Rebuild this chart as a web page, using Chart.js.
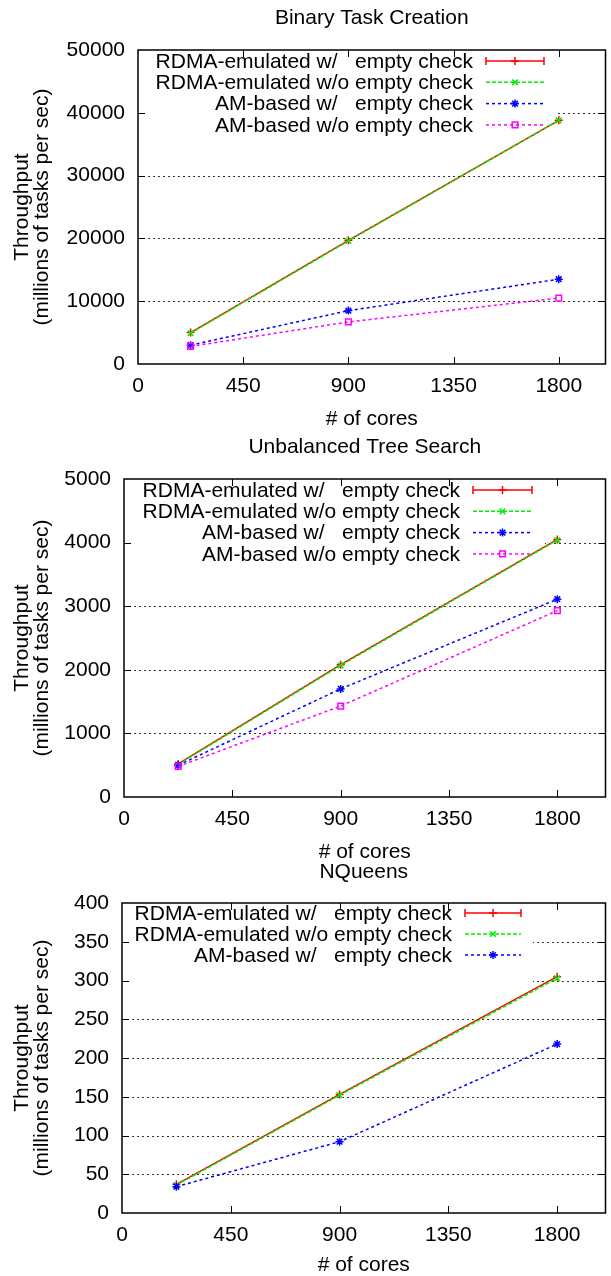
<!DOCTYPE html>
<html>
<head>
<meta charset="utf-8">
<script src="https://cdn.jsdelivr.net/npm/chart.js@4.4.0/dist/chart.umd.min.js"></script>
<style>
  html, body { margin: 0; padding: 0; background: #fff; }
  #wrap { position: relative; width: 611px; height: 1276px; overflow: hidden; }
  canvas { position: absolute; left: 0; }
</style>
</head>
<body>
<div id="wrap">
  <canvas id="btc" width="611" height="430" style="top:0px"></canvas>
  <canvas id="uts" width="611" height="430" style="top:430px"></canvas>
  <canvas id="nq" width="611" height="416" style="top:860px"></canvas>
</div>
<script>
// shared x data
const cores = [225, 900, 1800];
const xTicks = [0, 450, 900, 1350, 1800];
const seriesNames = [
    'RDMA-emulated w/   empty check',
    'RDMA-emulated w/o empty check',
    'AM-based w/   empty check',
    'AM-based w/o empty check'
];

// Binary Task Creation
const btcRdmaCheck = [5000, 19700, 38800];
const btcRdmaNoCheck = [4900, 19600, 38800];
const btcAmCheck = [3000, 8500, 13500];
const btcAmNoCheck = [2800, 6700, 10500];
const btcYTicks = [0, 10000, 20000, 30000, 40000, 50000];

// Unbalanced Tree Search
const utsRdmaCheck = [520, 2080, 4050];
const utsRdmaNoCheck = [510, 2070, 4040];
const utsAmCheck = [500, 1700, 3110];
const utsAmNoCheck = [480, 1430, 2930];
const utsYTicks = [0, 1000, 2000, 3000, 4000, 5000];

// NQueens
const nqRdmaCheck = [37, 153, 305];
const nqRdmaNoCheck = [36, 152, 303];
const nqAmCheck = [34, 92, 218];
const nqYTicks = [0, 50, 100, 150, 200, 250, 300, 350, 400];

const FONT = '"Liberation Sans", Arial, Helvetica, sans-serif';
const FSIZE = 21;
Chart.defaults.font.family = FONT;
Chart.defaults.font.size = FSIZE;
Chart.defaults.color = '#000';

const seriesStyles = [
    { color: '#ff0000', dash: [], point: 'cross' },
    { color: '#00ee00', dash: [4, 2], point: 'crossRot' },
    { color: '#0000ff', dash: [3, 3], point: 'star' },
    { color: '#ff00ff', dash: [3, 3], point: 'rect' }
];

function makeSeries(values, i) {
    const s = seriesStyles[i];
    return {
        label: seriesNames[i],
        data: cores.map((c, k) => ({ x: c, y: values[k] })),
        borderColor: s.color,
        backgroundColor: 'rgba(0,0,0,0)',
        borderWidth: 1.5,
        borderDash: s.dash,
        pointStyle: s.point,
        pointRadius: 4,
        pointBorderWidth: 1.5,
        pointBorderColor: s.color,
        pointBackgroundColor: 'rgba(0,0,0,0)',
        tension: 0,
        order: 4 - i
    };
}

// gnuplot-like frame: grid, legend box, inner tics, titles
const frame = {
    id: 'frame',
    beforeDatasetsDraw(chart, args, o) {
        const ctx = chart.ctx, a = chart.chartArea, ys = chart.scales.y;
        ctx.save();
        ctx.strokeStyle = '#333';
        ctx.lineWidth = 1;
        ctx.setLineDash([2, 3]);
        o.yTicks.slice(1, -1).forEach(v => {
            const py = Math.round(ys.getPixelForValue(v)) + 0.5;
            ctx.beginPath();
            ctx.moveTo(a.left, py);
            ctx.lineTo(a.right, py);
            ctx.stroke();
        });
        ctx.setLineDash([]);
        ctx.fillStyle = '#fff';
        ctx.fillRect(a.left + 1, a.top + 1, o.boxRight - a.left - 1, o.boxBottom - a.top - 1);

        // legend
        ctx.font = FSIZE + 'px ' + FONT;
        ctx.textAlign = 'right';
        ctx.textBaseline = 'middle';
        chart.data.datasets.forEach((ds, i) => {
            const y = o.rowY + i * o.rowGap;
            ctx.fillStyle = '#000';
            ctx.fillText(ds.label, o.textRight, y + 1);
            ctx.strokeStyle = ds.borderColor;
            ctx.lineWidth = 1.5;
            ctx.setLineDash(ds.borderDash);
            ctx.beginPath();
            ctx.moveTo(o.sampleStart, y);
            ctx.lineTo(o.sampleEnd, y);
            ctx.stroke();
            ctx.setLineDash([]);
            if (i === 0) {
                ctx.beginPath();
                ctx.moveTo(o.sampleStart, y - 4); ctx.lineTo(o.sampleStart, y + 4);
                ctx.moveTo(o.sampleEnd, y - 4); ctx.lineTo(o.sampleEnd, y + 4);
                ctx.stroke();
            }
            ctx.fillStyle = 'rgba(0,0,0,0)';
            Chart.helpers.drawPoint(ctx, { pointStyle: ds.pointStyle, radius: 4, borderWidth: 1.5, rotation: 0 },
                (o.sampleStart + o.sampleEnd) / 2, y);
        });
        ctx.restore();
    },
    afterDraw(chart, args, o) {
        const ctx = chart.ctx, a = chart.chartArea;
        const xs = chart.scales.x, ys = chart.scales.y;
        ctx.save();
        ctx.strokeStyle = '#000';
        ctx.lineWidth = 1.5;
        ctx.setLineDash([]);
        ctx.strokeRect(a.left, a.top, a.right - a.left, a.bottom - a.top);
        ctx.lineWidth = 1;
        ctx.beginPath();
        xTicks.slice(1).forEach(v => {
            const px = Math.round(xs.getPixelForValue(v)) + 0.5;
            ctx.moveTo(px, a.bottom); ctx.lineTo(px, a.bottom - 7);
            ctx.moveTo(px, a.top); ctx.lineTo(px, a.top + 7);
        });
        o.yTicks.slice(1, -1).forEach(v => {
            const py = Math.round(ys.getPixelForValue(v)) + 0.5;
            ctx.moveTo(a.left, py); ctx.lineTo(a.left + 7, py);
            ctx.moveTo(a.right, py); ctx.lineTo(a.right - 7, py);
        });
        ctx.stroke();

        const cx = (a.left + a.right) / 2;
        ctx.fillStyle = '#000';
        ctx.font = FSIZE + 'px ' + FONT;
        ctx.textAlign = 'center';
        ctx.textBaseline = 'middle';
        ctx.fillText(o.title, cx, o.titleY);
        ctx.fillText('# of cores', cx, o.xLabelY);
        const cy = (a.top + a.bottom) / 2;
        ctx.translate(0, cy);
        ctx.rotate(-Math.PI / 2);
        ctx.fillText('Throughput', 0, 22);
        ctx.fillText('(millions of tasks per sec)', 0, 42);
        ctx.restore();
    }
};

function makeChart(id, series, yTicks, L) {
    const canvas = document.getElementById(id);
    const H = canvas.height;
    return new Chart(canvas, {
        type: 'line',
        data: { datasets: series },
        options: {
            responsive: false,
            animation: false,
            layout: { padding: { top: L.top, left: 0, right: 611 - L.right, bottom: H - L.bottom - 40 } },
            plugins: {
                legend: { display: false },
                tooltip: { enabled: false },
                frame: Object.assign({ yTicks: yTicks }, L)
            },
            scales: {
                x: {
                    type: 'linear',
                    min: 0,
                    max: 2000,
                    grid: { display: false, drawTicks: false },
                    border: { display: false },
                    ticks: { padding: 10, maxRotation: 0, autoSkip: false, callback: v => String(v) },
                    afterBuildTicks: s => { s.ticks = xTicks.map(v => ({ value: v })); },
                    afterFit: s => { s.height = 40; }
                },
                y: {
                    type: 'linear',
                    min: yTicks[0],
                    max: yTicks[yTicks.length - 1],
                    grid: { display: false, drawTicks: false },
                    border: { display: false },
                    ticks: { padding: 13, callback: v => String(v) },
                    afterBuildTicks: s => { s.ticks = yTicks.map(v => ({ value: v })); },
                    afterFit: s => { s.width = L.left; }
                }
            }
        },
        plugins: [frame]
    });
}

makeChart('btc', [
    makeSeries(btcRdmaCheck, 0),
    makeSeries(btcRdmaNoCheck, 1),
    makeSeries(btcAmCheck, 2),
    makeSeries(btcAmNoCheck, 3)
], btcYTicks, {
    title: 'Binary Task Creation', top: 50, bottom: 364, left: 138, right: 606,
    titleY: 18, xLabelY: 419, rowY: 61, rowGap: 21.3,
    textRight: 473, sampleStart: 486, sampleEnd: 544, boxRight: 557, boxBottom: 140
});

makeChart('uts', [
    makeSeries(utsRdmaCheck, 0),
    makeSeries(utsRdmaNoCheck, 1),
    makeSeries(utsAmCheck, 2),
    makeSeries(utsAmNoCheck, 3)
], utsYTicks, {
    title: 'Unbalanced Tree Search', top: 49, bottom: 367, left: 124, right: 606,
    titleY: 17, xLabelY: 422, rowY: 60, rowGap: 21.3,
    textRight: 460, sampleStart: 473, sampleEnd: 532, boxRight: 545, boxBottom: 140
});

makeChart('nq', [
    makeSeries(nqRdmaCheck, 0),
    makeSeries(nqRdmaNoCheck, 1),
    makeSeries(nqAmCheck, 2)
], nqYTicks, {
    title: 'NQueens', top: 43, bottom: 353, left: 122, right: 610,
    titleY: 12, xLabelY: 405, rowY: 53, rowGap: 21,
    textRight: 452, sampleStart: 465, sampleEnd: 521, boxRight: 533, boxBottom: 130
});
</script>
</body>
</html>
